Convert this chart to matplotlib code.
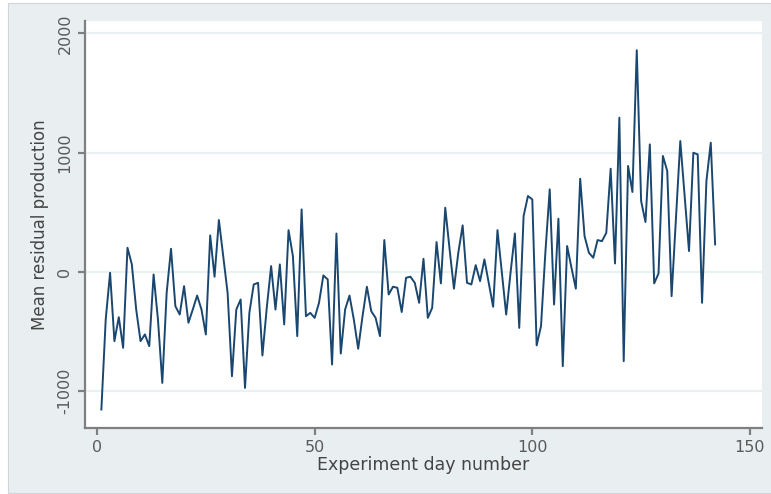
import matplotlib
matplotlib.use("Agg")
import matplotlib.pyplot as plt
from matplotlib.patches import Rectangle

days = list(range(1, 143))
residual = [
    -1153, -398, -7, -580, -379, -636, 203, 63, -315, -580,
    -524, -622, -21, -398, -930, -175, 194, -287, -357, -119,
    -426, -315, -198, -315, -524, 306, -40, 435, 133, -175,
    -874, -315, -231, -972, -343, -105, -91, -700, -300, 49,
    -315, 63, -440, 350, 133, -538, 524, -371, -343, -385,
    -259, -29, -63, -776, 322, -684, -315, -198, -399, -644,
    -371, -124, -329, -385, -538, 267, -189, -124, -133, -336,
    -49, -40, -91, -259, 110, -385, -301, 250, -96, 538,
    189, -140, 161, 390, -91, -105, 57, -77, 105, -91,
    -292, 350, -7, -357, -7, 322, -469, 468, 636, 608,
    -616, -454, 161, 692, -273, 446, -790, 217, 35, -140,
    781, 301, 161, 119, 267, 258, 328, 865, 71, 1293,
    -748, 888, 670, 1858, 594, 418, 1069, -96, -13, 972,
    846, -203, 440, 1097, 636, 175, 999, 985, -259, 762,
    1083, 231,
]
x_ticks = [0, 50, 100, 150]
y_ticks = [-1000, 0, 1000, 2000]
x_label = "Experiment day number"
y_label = "Mean residual production"

W, H = 771, 494
fig = plt.figure(figsize=(W / 100, H / 100), dpi=100)
fig.patch.set_facecolor("white")
bg = Rectangle((8 / W, 1 - 493 / H), (W - 8) / W, (493 - 3) / H,
               transform=fig.transFigure, facecolor="#e9eff1",
               edgecolor="#cfd6d9", linewidth=0.8, zorder=-10)
fig.patches.append(bg)

ax = fig.add_axes([85 / W, 1 - 428 / H, (762 - 85) / W, (428 - 21) / H])
ax.set_zorder(5)
ax.set_facecolor("white")
ax.plot(days, residual, color="#1a476f", linewidth=1.4, zorder=3)

ax.set_xlim(-2.76, 152.77)
ax.set_ylim(-1308, 2103)
ax.set_xticks(x_ticks)
ax.set_yticks(y_ticks)
ax.set_yticklabels([str(v) for v in y_ticks], rotation=90, va="center")

ax.grid(axis="y", color="#eaf1f3", linewidth=1.6)
ax.grid(axis="x", visible=False)
ax.set_axisbelow(True)

for side in ["top", "right"]:
    ax.spines[side].set_visible(False)
for side in ["left", "bottom"]:
    ax.spines[side].set_color("#7f7f7f")
    ax.spines[side].set_linewidth(1.6)

ax.tick_params(axis="both", direction="out", length=5, width=1.6,
               color="#7f7f7f", labelcolor="#5a5a5a", labelsize=11.5, pad=4)

ax.set_xlabel(x_label, fontsize=12.5, color="#444444", labelpad=0)
ax.set_ylabel(y_label, fontsize=12, color="#444444", labelpad=6)

fig.savefig("out.png", dpi=100, facecolor=fig.get_facecolor())
